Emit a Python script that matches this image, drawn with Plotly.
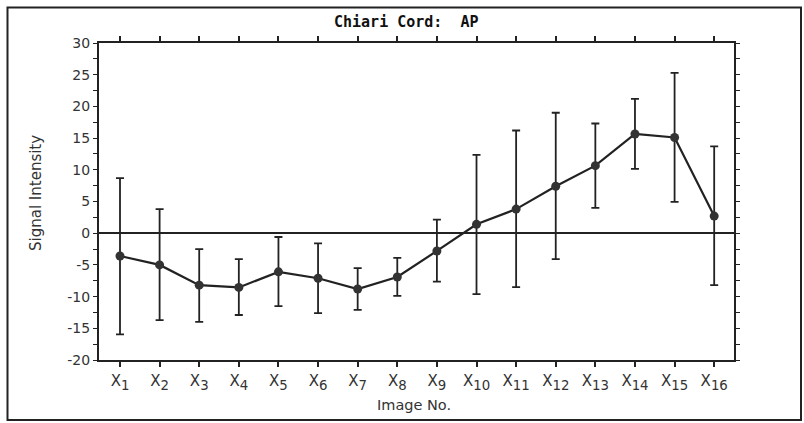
import plotly.graph_objects as go

image_no = list(range(1, 17))
tick_labels = [f"<span style='font-size:15px'>X</span><sub>{i}</sub>" for i in image_no]
y_ticks = [-20, -15, -10, -5, 0, 5, 10, 15, 20, 25, 30]
y_tick_labels = [str(v) for v in y_ticks]
mean = [-3.6, -5.0, -8.2, -8.55, -6.1, -7.1, -8.8, -6.9, -2.8, 1.4, 3.8, 7.4, 10.65, 15.65, 15.1, 2.7]
upper = [8.7, 3.8, -2.5, -4.1, -0.6, -1.6, -5.5, -3.9, 2.15, 12.35, 16.2, 19.0, 17.3, 21.2, 25.3, 13.7]
lower = [-15.95, -13.7, -14.0, -12.9, -11.5, -12.6, -12.1, -9.9, -7.65, -9.6, -8.5, -4.1, 4.0, 10.15, 4.95, -8.2]

err_plus = [u - m for u, m in zip(upper, mean)]
err_minus = [m - l for m, l in zip(mean, lower)]

ink = "#222222"
txt = "#333333"
fig = go.Figure()
fig.add_trace(go.Scatter(
    x=image_no, y=mean, mode="lines+markers",
    line=dict(color=ink, width=2.2),
    marker=dict(color="#333333", size=9),
    error_y=dict(type="data", symmetric=False, array=err_plus, arrayminus=err_minus,
                 color=ink, thickness=1.8, width=4),
    showlegend=False, hoverinfo="skip",
))

fig.update_layout(
    width=804, height=423,
    margin=dict(l=99, r=70, t=43, b=63),
    paper_bgcolor="white", plot_bgcolor="white",
    font=dict(family="DejaVu Sans", color=txt, size=14),
    xaxis=dict(
        range=[0.47, 16.5], tickvals=image_no, ticktext=tick_labels,
        showgrid=False, zeroline=False, showline=True, linecolor=ink, linewidth=2,
        mirror="allticks", ticks="outside", ticklen=5, tickwidth=1.5, tickcolor=ink,
        tickfont=dict(size=19, family="DejaVu Sans", color=txt),
        ticklabelstandoff=-4,
    ),
    yaxis=dict(
        range=[-20, 30], tickvals=y_ticks, ticktext=y_tick_labels,
        showgrid=False, zeroline=True, zerolinecolor=ink, zerolinewidth=1.5,
        showline=True, linecolor=ink, linewidth=2,
        mirror="allticks", ticks="outside", ticklen=4, tickwidth=1.2, tickcolor=ink,
        minor=dict(dtick=2.5, ticks="outside", ticklen=4, tickwidth=1.2, tickcolor=ink),
        tickfont=dict(size=14, family="DejaVu Sans", color=txt),
    ),
    shapes=[dict(type="rect", xref="paper", yref="paper",
                 x0=(7.5 - 99) / 635, x1=(801 - 99) / 635,
                 y0=(360 - 420) / 317, y1=(360 - 7.5) / 317,
                 line=dict(color=ink, width=2))],
    annotations=[
        dict(text="<b>Chiari Cord:  AP</b>", xref="paper", yref="paper",
             x=(406 - 99) / 635, y=(360 - 22) / 317, showarrow=False,
             xanchor="center", yanchor="middle",
             font=dict(family="DejaVu Sans Mono", size=15, color="#111111")),
        dict(text="Signal Intensity", xref="paper", yref="paper",
             x=(36 - 99) / 635, y=(360 - 193) / 317, showarrow=False, textangle=-90,
             xanchor="center", yanchor="middle",
             font=dict(family="DejaVu Sans", size=15, color=txt)),
        dict(text="Image No.", xref="paper", yref="paper",
             x=(414 - 99) / 635, y=(360 - 405) / 317, showarrow=False,
             xanchor="center", yanchor="middle",
             font=dict(family="DejaVu Sans", size=14.5, color=txt)),
    ],
)

fig.write_html("out.html", config={"displayModeBar": False},
               post_script="document.body.style.margin='0px';")
